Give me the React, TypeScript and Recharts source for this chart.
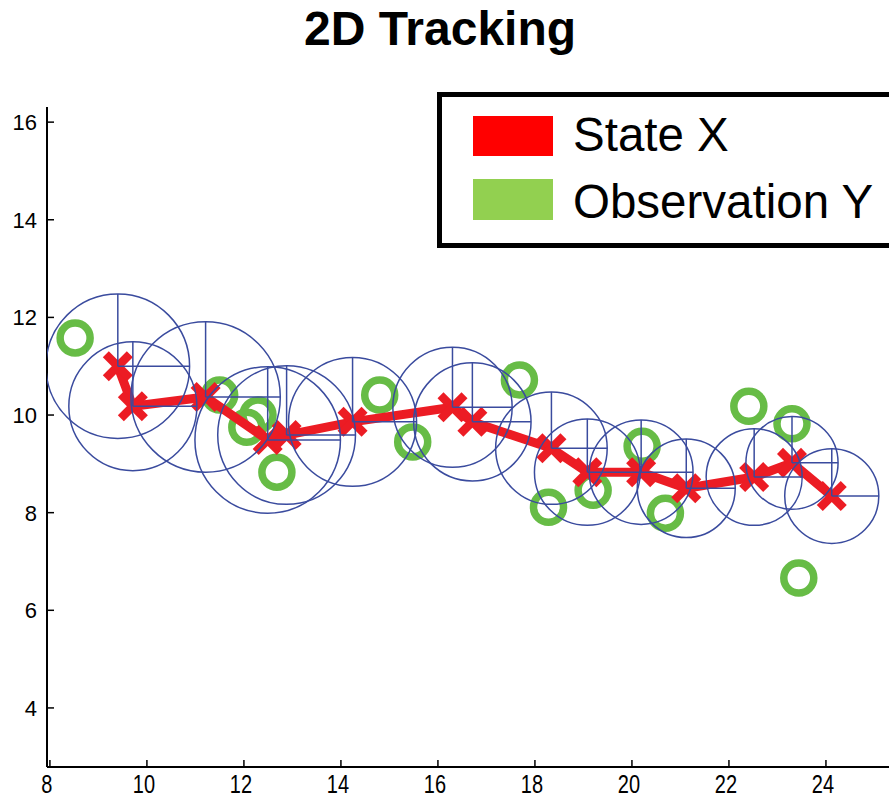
import React from "react";
import { Scatter, ScatterChart, XAxis, YAxis } from "recharts";

// state estimates (red x's) with covariance radius in axis units
const stateX = [9.4, 9.71, 11.21, 12.49, 12.88, 14.24, 16.3, 16.71, 18.34, 19.08, 20.19, 21.12, 22.52, 23.3, 24.12];
const stateY = [11.0, 10.18, 10.37, 9.49, 9.59, 9.86, 10.16, 9.86, 9.32, 8.83, 8.83, 8.5, 8.73, 9.02, 8.34];
const stateR = [1.48, 1.32, 1.54, 1.5, 1.42, 1.32, 1.23, 1.21, 1.15, 1.09, 1.07, 1.01, 0.99, 0.95, 0.97];

// observations (green rings)
const obsX = [8.52, 11.5, 12.29, 12.06, 12.68, 14.8, 15.48, 17.68, 18.28, 19.2, 20.21, 20.69, 22.41, 23.3, 23.44];
const obsY = [11.58, 10.41, 10.0, 9.75, 8.83, 10.41, 9.45, 10.72, 8.11, 8.46, 9.36, 7.99, 10.18, 9.82, 6.66];

const xTicks = [8, 10, 12, 14, 16, 18, 20, 22, 24];
const yTicks = [4, 6, 8, 10, 12, 14, 16];

const X_DOMAIN: [number, number] = [7.94, 25.3];
const Y_DOMAIN: [number, number] = [2.79, 16.31];

const W = 889;
const H = 801;
const TOP = 107;
const LEFT = 47;
const BOTTOM = 34;
const plotW = W - LEFT;
const plotH = H - TOP - BOTTOM;
const pxX = plotW / (X_DOMAIN[1] - X_DOMAIN[0]);
const pxY = plotH / (Y_DOMAIN[1] - Y_DOMAIN[0]);

const RED = "#EC1C24";
const BLUE = "#3A4B9E";
const GREEN = "#67BC46";

const states = stateX.map((x, i) => ({ x, y: stateY[i], r: stateR[i] }));
const obs = obsX.map((x, i) => ({ x, y: obsY[i] }));

const CovShape = (props: any) => {
  const { cx, cy, payload } = props;
  const rx = payload.r * pxX;
  const ry = payload.r * pxY;
  return (
    <g>
      <ellipse cx={cx} cy={cy} rx={rx} ry={ry} fill="none" stroke={BLUE} strokeWidth={1.5} />
      <line x1={cx} y1={cy} x2={cx} y2={cy - ry} stroke={BLUE} strokeWidth={1.5} />
      <line x1={cx} y1={cy} x2={cx + rx} y2={cy} stroke={BLUE} strokeWidth={1.5} />
    </g>
  );
};

const CrossShape = (props: any) => {
  const { cx, cy } = props;
  const s = 12;
  return (
    <g stroke={RED} strokeWidth={8.5}>
      <line x1={cx - s} y1={cy - s} x2={cx + s} y2={cy + s} />
      <line x1={cx - s} y1={cy + s} x2={cx + s} y2={cy - s} />
    </g>
  );
};

const RingShape = (props: any) => {
  const { cx, cy } = props;
  return <circle cx={cx} cy={cy} r={15} fill="none" stroke={GREEN} strokeWidth={7.5} />;
};

const XTick = (props: any) => {
  const { x, y, payload } = props;
  return (
    <g>
      <line x1={x} y1={y} x2={x} y2={y - 7} stroke="#000" strokeWidth={1.5} />
      <text
        transform={`translate(${x - 3},${y + 26}) scale(0.8,1)`}
        textAnchor="middle"
        fontFamily="'Liberation Sans', Arial, sans-serif"
        fontSize={25}
        fill="#000"
      >
        {payload.value}
      </text>
    </g>
  );
};

const YTick = (props: any) => {
  const { x, y, payload } = props;
  return (
    <g>
      <line x1={x} y1={y} x2={x + 7} y2={y} stroke="#000" strokeWidth={1.5} />
      <text
        x={x - 10}
        y={y + 8}
        textAnchor="end"
        fontFamily="'Liberation Sans', Arial, sans-serif"
        fontSize={22}
        fill="#000"
      >
        {payload.value}
      </text>
    </g>
  );
};

export default function App() {
  return (
    <div style={{ position: "absolute", left: 0, top: 0, width: W, height: H, background: "#fff" }}>
      <ScatterChart width={W} height={H} margin={{ top: TOP, right: 0, bottom: 0, left: 0 }}>
        <XAxis
          type="number"
          dataKey="x"
          domain={X_DOMAIN}
          ticks={xTicks}
          allowDataOverflow
          height={BOTTOM}
          tickSize={0}
          tickMargin={0}
          tickLine={false}
          axisLine={{ stroke: "#000", strokeWidth: 2 }}
          tick={<XTick />}
          interval={0}
        />
        <YAxis
          type="number"
          dataKey="y"
          domain={Y_DOMAIN}
          ticks={yTicks}
          allowDataOverflow
          width={LEFT}
          tickSize={0}
          tickMargin={0}
          tickLine={false}
          axisLine={{ stroke: "#000", strokeWidth: 2 }}
          tick={<YTick />}
          interval={0}
        />
        <Scatter name="Observation Y" data={obs} shape={<RingShape />} isAnimationActive={false} />
        <Scatter
          name="State X"
          data={states}
          shape={<CrossShape />}
          line={{ stroke: RED, strokeWidth: 9 }}
          lineType="joint"
          isAnimationActive={false}
        />
        <Scatter name="Covariance" data={states} shape={<CovShape />} isAnimationActive={false} />
      </ScatterChart>
      <svg
        width={W}
        height={H}
        style={{ position: "absolute", left: 0, top: 0, pointerEvents: "none" }}
      >
        <text
          x={440}
          y={45}
          textAnchor="middle"
          fontFamily="'Liberation Sans', Arial, sans-serif"
          fontWeight="bold"
          fontSize={48}
          fill="#000"
        >
          2D Tracking
        </text>
        <rect x={439.5} y={94.5} width={470} height={151} fill="#fff" stroke="#000" strokeWidth={5} />
        <rect x={473} y={116} width={80} height={40} fill="#FF0000" />
        <rect x={473} y={179} width={80} height={41} fill="#92D050" />
        <text x={573} y={151} fontFamily="'Liberation Sans', Arial, sans-serif" fontSize={47.5} fill="#000">
          State X
        </text>
        <text x={573} y={218} fontFamily="'Liberation Sans', Arial, sans-serif" fontSize={47.5} fill="#000">
          Observation Y
        </text>
      </svg>
    </div>
  );
}
